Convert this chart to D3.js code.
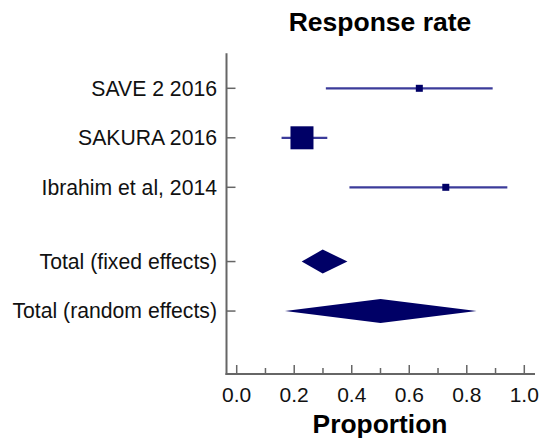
<!DOCTYPE html>
<html>
<head>
  <meta charset="utf-8">
  <style>
    body { margin: 0; background: #fff; }
    text { font-family: "Liberation Sans", Arial, sans-serif; }
  </style>
</head>
<body>
  <div id="chart"></div>
  <script src="https://d3js.org/d3.v7.min.js"></script>
  <script>
    // studies
    var studies = ['SAVE 2 2016', 'SAKURA 2016', 'Ibrahim et al, 2014'];
    var studyEst = [0.635, 0.227, 0.727];
    var studyLow = [0.31, 0.156, 0.392];
    var studyHigh = [0.89, 0.315, 0.941];
    var studyBox = [7, 23, 7];          // marker size (weight)

    // pooled
    var totals = ['Total (fixed effects)', 'Total (random effects)'];
    var totalEst = [0.299, 0.50];
    var totalLow = [0.226, 0.168];
    var totalHigh = [0.385, 0.834];

    var rowPos = [0, 1, 2, 3.5, 4.5];
    var xTicks = [0, 0.2, 0.4, 0.6, 0.8, 1.0];

    var width = 540, height = 440;
    var svg = d3.select('#chart').append('svg')
        .attr('width', width).attr('height', height);

    var x = d3.scaleLinear().domain([0, 1]).range([236.7, 524.3]);
    var y = d3.scaleLinear().domain([0, 1]).range([88.3, 137.8]);
    var axisY = 374, axisX = 226.5;
    var axisColor = '#666';
    var navy = '#000066';

    // left axis
    svg.append('line')
        .attr('x1', axisX).attr('x2', axisX)
        .attr('y1', y(-0.71)).attr('y2', axisY + 1)
        .attr('stroke', axisColor).attr('stroke-width', 2);

    var labels = studies.concat(totals);
    labels.forEach(function (lab, i) {
      svg.append('line')
          .attr('x1', axisX).attr('x2', axisX + 9)
          .attr('y1', y(rowPos[i])).attr('y2', y(rowPos[i]))
          .attr('stroke', axisColor).attr('stroke-width', 1.5);
      svg.append('text')
          .attr('x', 217).attr('y', y(rowPos[i]))
          .attr('dy', '0.35em')
          .attr('text-anchor', 'end')
          .attr('font-size', 21.2)
          .attr('fill', '#111')
          .text(lab);
    });

    // bottom axis
    svg.append('line')
        .attr('x1', axisX - 1).attr('x2', 535)
        .attr('y1', axisY).attr('y2', axisY)
        .attr('stroke', axisColor).attr('stroke-width', 2);

    d3.range(0, 1.01, 0.1).forEach(function (t, i) {
      var major = i % 2 === 0;
      svg.append('line')
          .attr('x1', x(t)).attr('x2', x(t))
          .attr('y1', axisY).attr('y2', axisY - (major ? 9 : 6))
          .attr('stroke', axisColor).attr('stroke-width', 1.5);
    });

    svg.selectAll('text.tick')
        .data(xTicks)
        .enter().append('text')
        .attr('class', 'tick')
        .attr('x', d => x(d))
        .attr('y', 402)
        .attr('text-anchor', 'middle')
        .attr('font-size', 21)
        .attr('fill', '#111')
        .text(d => d.toFixed(1));

    // study CIs and boxes
    studies.forEach(function (s, i) {
      var cy = y(rowPos[i]);
      svg.append('line')
          .attr('x1', x(studyLow[i])).attr('x2', x(studyHigh[i]))
          .attr('y1', cy).attr('y2', cy)
          .attr('stroke', '#3b3b9a').attr('stroke-width', 2.2);
      var b = studyBox[i];
      svg.append('rect')
          .attr('x', x(studyEst[i]) - b / 2).attr('y', cy - b / 2)
          .attr('width', b).attr('height', b)
          .attr('fill', navy);
    });

    // pooled diamonds
    totals.forEach(function (s, i) {
      var cy = y(rowPos[i + 3]);
      var h = 12;
      var pts = [
        [x(totalLow[i]), cy],
        [x(totalEst[i]), cy - h],
        [x(totalHigh[i]), cy],
        [x(totalEst[i]), cy + h]
      ];
      svg.append('polygon')
          .attr('points', pts.map(p => p.join(',')).join(' '))
          .attr('fill', navy);
    });

    svg.append('text')
        .attr('x', 380).attr('y', 31)
        .attr('text-anchor', 'middle')
        .attr('font-size', 26.5)
        .attr('font-weight', 'bold')
        .attr('fill', '#000')
        .text('Response rate');

    svg.append('text')
        .attr('x', 380).attr('y', 433)
        .attr('text-anchor', 'middle')
        .attr('font-size', 26.4)
        .attr('font-weight', 'bold')
        .attr('fill', '#000')
        .text('Proportion');
  </script>
</body>
</html>
